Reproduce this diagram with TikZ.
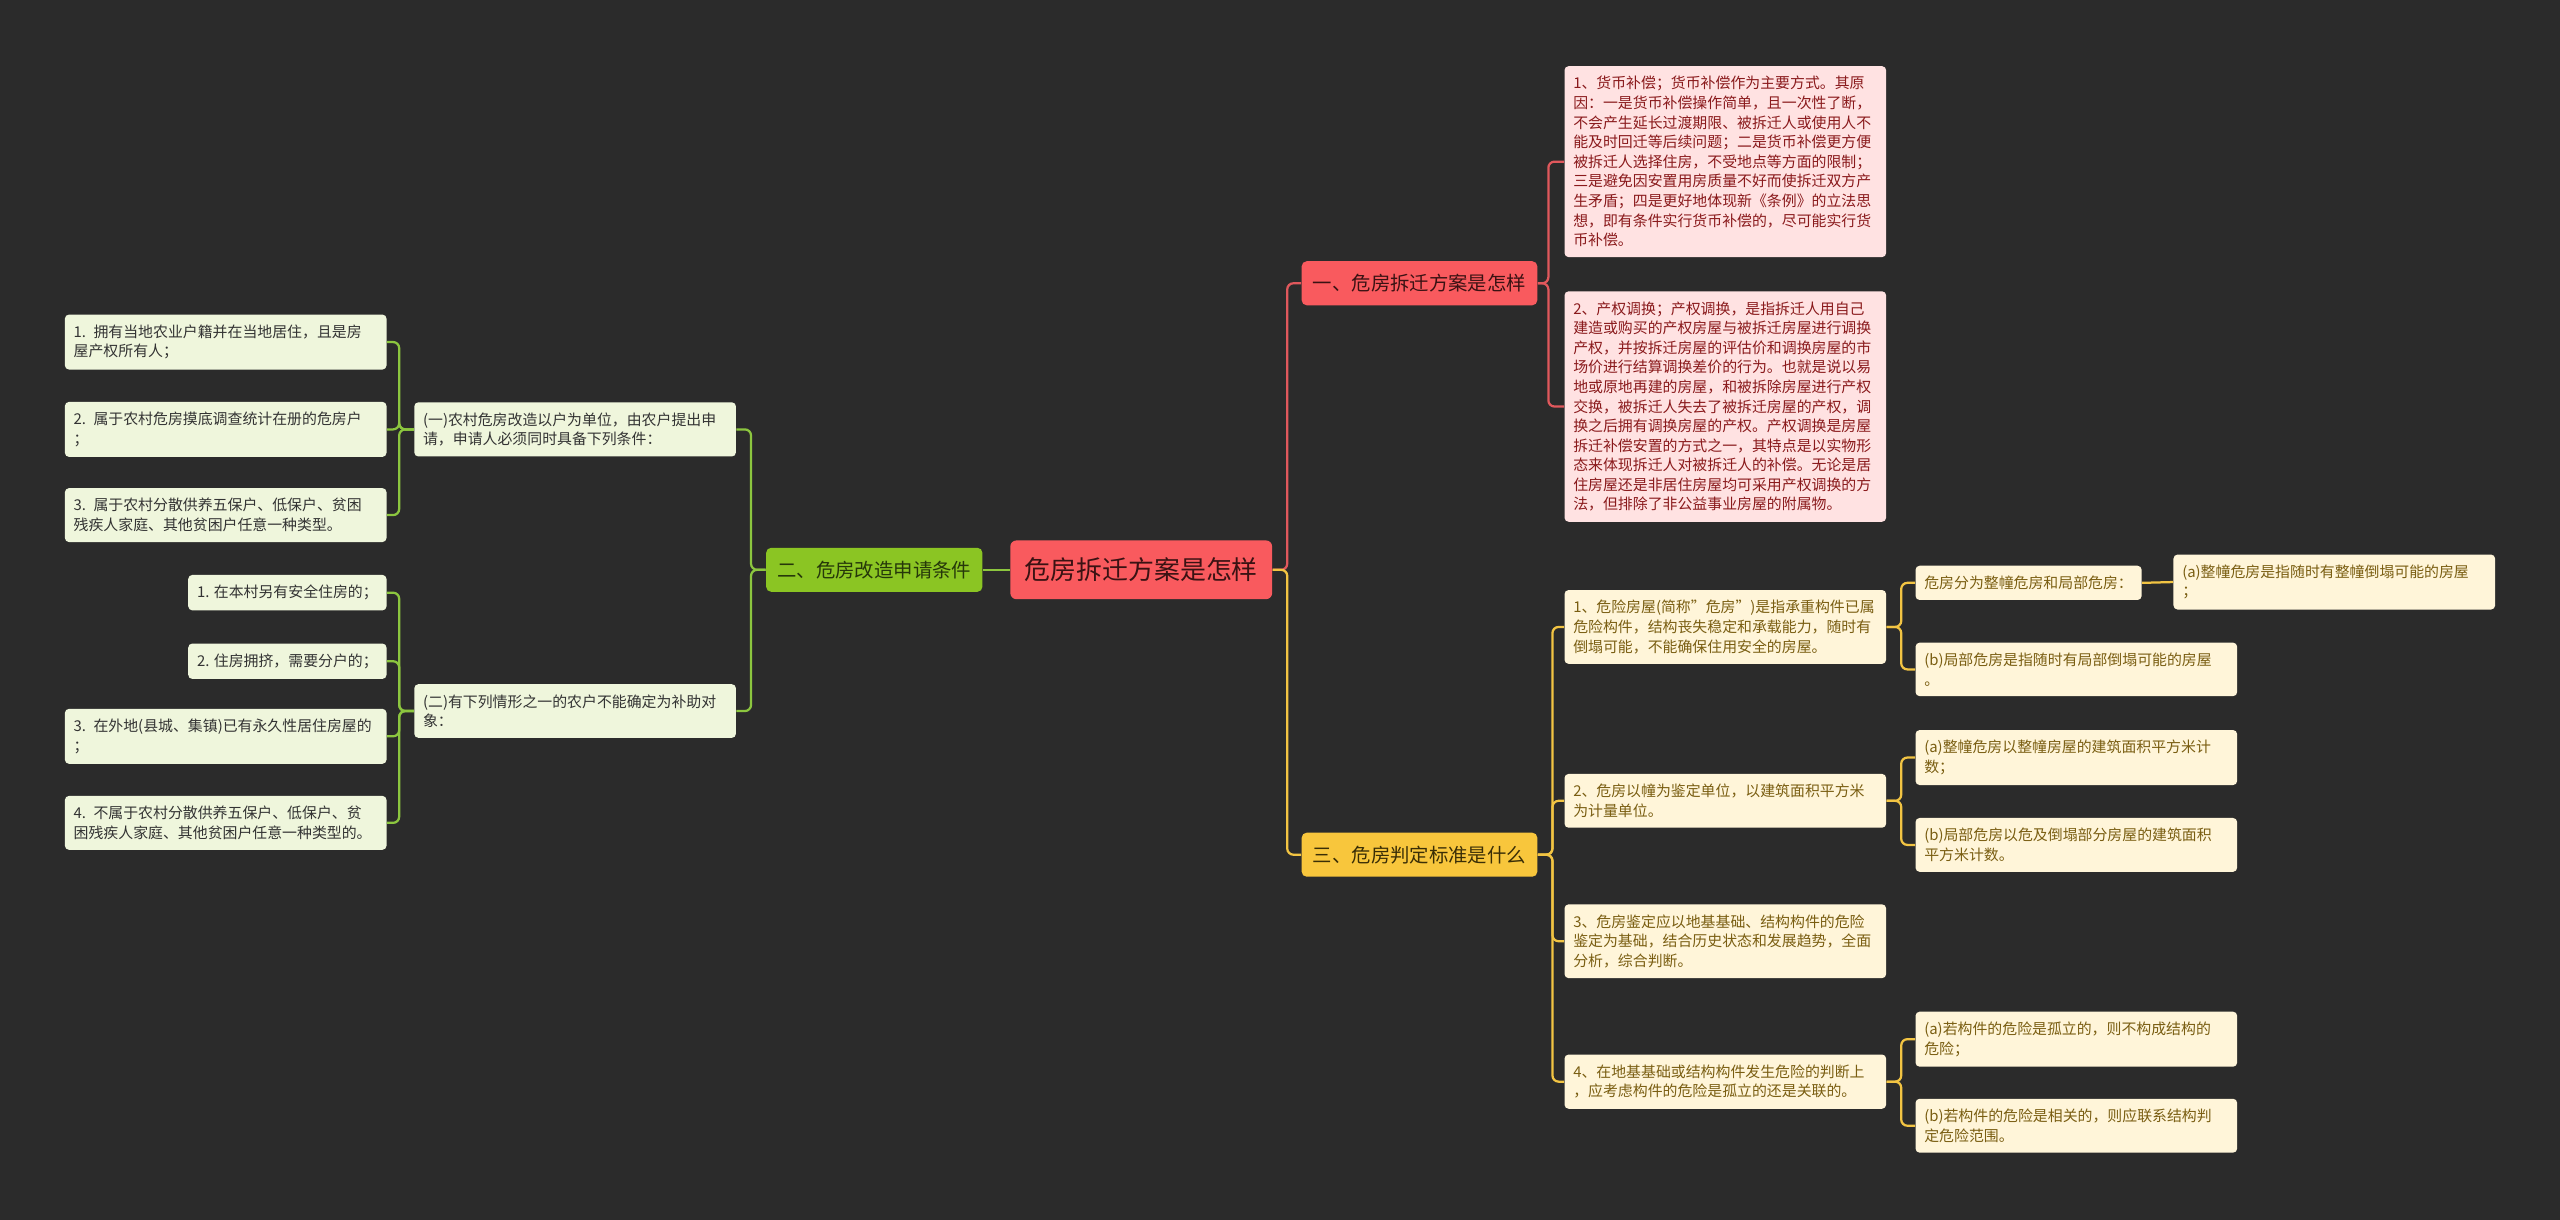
\documentclass[tikz,border=0pt]{standalone}
\usepackage{fontspec}
\setmainfont{Noto Sans CJK SC}
\usepackage{xcolor}
\usetikzlibrary{positioning,backgrounds}

\definecolor{bgdark}{HTML}{2B2B2B}
\definecolor{rootfill}{HTML}{F95A5E}
\definecolor{roottext}{HTML}{3A1213}
\definecolor{redline}{HTML}{E0585C}
\definecolor{redleaf}{HTML}{FFE2E2}
\definecolor{redtext}{HTML}{8A1A1C}
\definecolor{yelfill}{HTML}{F8C63C}
\definecolor{yeltopic}{HTML}{3A2E06}
\definecolor{yelline}{HTML}{F2C443}
\definecolor{yelleaf}{HTML}{FFF5D9}
\definecolor{yeltext}{HTML}{7A5E12}
\definecolor{grnfill}{HTML}{8BC523}
\definecolor{grntopic}{HTML}{26380A}
\definecolor{grnline}{HTML}{8CC63F}
\definecolor{grnleaf}{HTML}{EFF6DC}
\definecolor{grntext}{HTML}{333333}

\begin{document}
\begin{tikzpicture}[
    x=0.8pt, y=-0.8pt,
    box/.style={rounded corners=2pt, inner xsep=4.3pt, inner ysep=5pt,
                align=left, font=\fontsize{7.3}{9.6}\selectfont},
    leaf/.style={box, text width=149pt},
    gleaf/.style={leaf, fill=grnleaf, text=grntext},
    gshort/.style={box, fill=grnleaf, text=grntext},
    rleaf/.style={leaf, fill=redleaf, text=redtext},
    yleaf/.style={leaf, fill=yelleaf, text=yeltext},
    yshort/.style={box, fill=yelleaf, text=yeltext},
    topic/.style={rounded corners=2.5pt, inner xsep=5.5pt, inner ysep=0pt,
                  minimum height=21.6pt, font=\fontsize{9.5}{11}\selectfont},
    rootbox/.style={rounded corners=3pt, fill=rootfill, text=roottext,
                    inner xsep=7pt, minimum height=28.8pt,
                    font=\fontsize{12.7}{14}\selectfont},
    link/.style={line width=1.1pt, rounded corners=3pt},
]
% --- canvas ---
\fill[bgdark] (0,0) rectangle (1568,747);
\useasboundingbox (0,0) rectangle (1568,747);

% --- centre and main topics ---
\node[rootbox] (root) at (699,349) {危房拆迁方案是怎样};
\node[topic, fill=grnfill, text=grntopic, anchor=east] (apply) at (602,349)
  {二、危房改造申请条件};
\node[topic, fill=rootfill, text=roottext, anchor=west] (plan) at (797,173.5)
  {一、危房拆迁方案是怎样};
\node[topic, fill=yelfill, text=yeltopic, anchor=west] (judge) at (797,523.5)
  {三、危房判定标准是什么};

% --- left branch: application conditions ---
\node[gleaf, anchor=east] (condA) at (451,263)
  {(一)农村危房改造以户为单位，由农户提出申\\请，申请人必须同时具备下列条件：};
\node[gleaf, anchor=east] (condB) at (451,435.5)
  {(二)有下列情形之一的农户不能确定为补助对\\象：};

\node[gleaf, anchor=east] (condA1) at (237,209.5)
  {1. 拥有当地农业户籍并在当地居住，且是房\\屋产权所有人；};
\node[gleaf, anchor=east] (condA2) at (237,263)
  {2. 属于农村危房摸底调查统计在册的危房户\\；};
\node[gleaf, anchor=east] (condA3) at (237,315.5)
  {3. 属于农村分散供养五保户、低保户、贫困\\残疾人家庭、其他贫困户任意一种类型。};

\node[gshort, anchor=east] (condB1) at (237,363) {1. 在本村另有安全住房的；};
\node[gshort, anchor=east] (condB2) at (237,405) {2. 住房拥挤，需要分户的；};
\node[gleaf, anchor=east] (condB3) at (237,451)
  {3. 在外地(县城、集镇)已有永久性居住房屋的\\；};
\node[gleaf, anchor=east] (condB4) at (237,504)
  {4. 不属于农村分散供养五保户、低保户、贫\\困残疾人家庭、其他贫困户任意一种类型的。};

% --- right branch: relocation plan ---
\node[rleaf, anchor=west] (plan1) at (958,99)
  {1、货币补偿；货币补偿作为主要方式。其原\\
   因：一是货币补偿操作简单，且一次性了断，\\
   不会产生延长过渡期限、被拆迁人或使用人不\\
   能及时回迁等后续问题；二是货币补偿更方便\\
   被拆迁人选择住房，不受地点等方面的限制；\\
   三是避免因安置用房质量不好而使拆迁双方产\\
   生矛盾；四是更好地体现新《条例》的立法思\\
   想，即有条件实行货币补偿的，尽可能实行货\\
   币补偿。};
\node[rleaf, anchor=west] (plan2) at (958,249)
  {2、产权调换；产权调换，是指拆迁人用自己\\
   建造或购买的产权房屋与被拆迁房屋进行调换\\
   产权，并按拆迁房屋的评估价和调换房屋的市\\
   场价进行结算调换差价的行为。也就是说以易\\
   地或原地再建的房屋，和被拆除房屋进行产权\\
   交换，被拆迁人失去了被拆迁房屋的产权，调\\
   换之后拥有调换房屋的产权。产权调换是房屋\\
   拆迁补偿安置的方式之一，其特点是以实物形\\
   态来体现拆迁人对被拆迁人的补偿。无论是居\\
   住房屋还是非居住房屋均可采用产权调换的方\\
   法，但排除了非公益事业房屋的附属物。};

% --- right branch: judging standard ---
\node[yleaf, anchor=west] (std1) at (958,384)
  {1、危险房屋(简称"危房")是指承重构件已属\\
   危险构件，结构丧失稳定和承载能力，随时有\\
   倒塌可能，不能确保住用安全的房屋。};
\node[yleaf, anchor=west] (std2) at (958,490.5)
  {2、危房以幢为鉴定单位，以建筑面积平方米\\为计量单位。};
\node[yleaf, anchor=west] (std3) at (958,576.5)
  {3、危房鉴定应以地基基础、结构构件的危险\\
   鉴定为基础，结合历史状态和发展趋势，全面\\
   分析，综合判断。};
\node[yleaf, anchor=west] (std4) at (958,662.5)
  {4、在地基基础或结构构件发生危险的判断上\\，应考虑构件的危险是孤立的还是关联的。};

\node[yshort, anchor=west] (kind) at (1173,357) {危房分为整幢危房和局部危房：};
\node[yleaf, anchor=west] (kindA) at (1331,356.5)
  {(a)整幢危房是指随时有整幢倒塌可能的房屋\\；};
\node[yleaf, anchor=west] (kindB) at (1173,410)
  {(b)局部危房是指随时有局部倒塌可能的房屋\\。};
\node[yleaf, anchor=west] (unitA) at (1173,464)
  {(a)整幢危房以整幢房屋的建筑面积平方米计\\数；};
\node[yleaf, anchor=west] (unitB) at (1173,517.5)
  {(b)局部危房以危及倒塌部分房屋的建筑面积\\平方米计数。};
\node[yleaf, anchor=west] (riskA) at (1173,636.5)
  {(a)若构件的危险是孤立的，则不构成结构的\\危险；};
\node[yleaf, anchor=west] (riskB) at (1173,689.5)
  {(b)若构件的危险是相关的，则应联系结构判\\定危险范围。};

% --- connectors ---
\draw[link, grnline] (root.west) -- (apply.east);
\draw[link, redline] (root.east) -- ++(9,0) |- (plan.west);
\draw[link, yelline] (root.east) -- ++(9,0) |- (judge.west);

\foreach \c in {condA,condB}
  \draw[link, grnline] (apply.west) -- ++(-9,0) |- (\c.east);
\foreach \c in {condA1,condA2,condA3}
  \draw[link, grnline] (condA.west) -- ++(-9,0) |- (\c.east);
\foreach \c in {condB1,condB2,condB3,condB4}
  \draw[link, grnline] (condB.west) -- ++(-9,0) |- (\c.east);

\foreach \c in {plan1,plan2}
  \draw[link, redline] (plan.east) -- ++(6.5,0) |- (\c.west);
\foreach \c in {std1,std2,std3,std4}
  \draw[link, yelline] (judge.east) -- ++(9,0) |- (\c.west);

\foreach \c in {kind,kindB}
  \draw[link, yelline] (std1.east) -- ++(9,0) |- (\c.west);
\draw[link, yelline] (kind.east) -- (kindA.west);
\foreach \c in {unitA,unitB}
  \draw[link, yelline] (std2.east) -- ++(9,0) |- (\c.west);
\foreach \c in {riskA,riskB}
  \draw[link, yelline] (std4.east) -- ++(9,0) |- (\c.west);
\end{tikzpicture}
\end{document}
